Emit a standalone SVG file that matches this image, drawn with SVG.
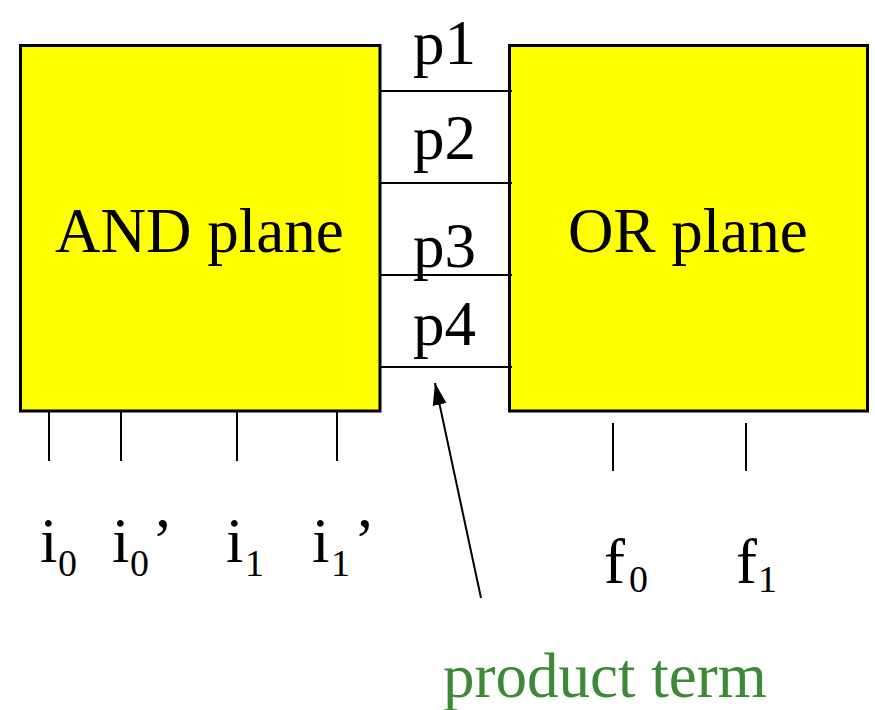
<svg xmlns="http://www.w3.org/2000/svg" width="875" height="710" viewBox="0 0 875 710">
  <style>
    .plane { fill: #ffff00; stroke: #000; stroke-width: 3; }
    .t { fill: #000; }
    .big { font-size: 63px; }
    .sub { font-size: 38px; }
    .wire { stroke: #000; stroke-width: 2; fill: none; }
    .green { fill: #3d8a36; }
  </style>
  <defs>
    <marker id="arrow" markerUnits="userSpaceOnUse" markerWidth="24" markerHeight="16" refX="22" refY="7" orient="auto">
      <path d="M0,0 L22,7 L0,14 Z" fill="#000"/>
    </marker>
  </defs>
  <rect width="875" height="710" fill="#fff"/>

  <g font-family="Liberation Serif, DejaVu Serif, serif">
  <g id="and-plane">
    <rect class="plane" x="20.5" y="45.5" width="359.5" height="365.5"/>
    <text class="t big" x="55" y="252">AND plane</text>
  </g>

  <g id="or-plane">
    <rect class="plane" x="509.5" y="45.5" width="358" height="365.5"/>
    <text class="t big" x="568" y="252">OR plane</text>
  </g>

  <g id="product-labels">
    <text class="t big" x="413" y="64">p1</text>
    <text class="t big" x="413" y="159">p2</text>
    <text class="t big" x="413" y="267">p3</text>
    <text class="t big" x="413" y="345">p4</text>
  </g>

  <g id="inputs">
    <text class="t big" x="40" y="562">i</text><text class="t sub" x="58" y="576">0</text>
    <text class="t big" x="112" y="562">i</text><text class="t sub" x="130" y="576">0</text><text class="t big" x="152" y="562">’</text>
    <text class="t big" x="226" y="562">i</text><text class="t sub" x="245" y="576">1</text>
    <text class="t big" x="312" y="562">i</text><text class="t sub" x="331" y="576">1</text><text class="t big" x="354" y="562">’</text>
  </g>

  <g id="outputs">
    <text class="t big" x="604" y="583">f</text><text class="t sub" x="629" y="592">0</text>
    <text class="t big" x="736" y="583">f</text><text class="t sub" x="758" y="592">1</text>
  </g>

  <g id="product-term-label">
    <text class="t green" x="443" y="697" font-size="63">product term</text>
  </g>
  </g>

  <g id="connectors">
    <line class="wire" x1="380" y1="91" x2="512" y2="91"/>
    <line class="wire" x1="380" y1="183" x2="512" y2="183"/>
    <line class="wire" x1="380" y1="275" x2="512" y2="275"/>
    <line class="wire" x1="380" y1="367" x2="512" y2="367"/>
    <line class="wire" x1="49" y1="412" x2="49" y2="461"/>
    <line class="wire" x1="121" y1="412" x2="121" y2="461"/>
    <line class="wire" x1="237" y1="412" x2="237" y2="461"/>
    <line class="wire" x1="337" y1="412" x2="337" y2="461"/>
    <line class="wire" x1="613" y1="423" x2="613" y2="471"/>
    <line class="wire" x1="746" y1="423" x2="746" y2="471"/>
    <line class="wire" x1="481" y1="598" x2="435" y2="383" marker-end="url(#arrow)"/>
  </g>
</svg>
